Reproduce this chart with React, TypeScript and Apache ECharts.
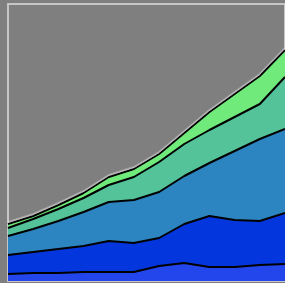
import React, { useEffect, useRef } from "react";
import * as echarts from "echarts";

const categories = ["1", "2", "3", "4", "5", "6", "7", "8", "9", "10", "11", "12"];
const seriesA = [7, 8, 8, 9, 9, 9, 15, 18, 14, 14, 16, 17];
const seriesB = [19, 21, 24, 26, 31, 29, 28, 39, 51, 47, 44, 51];
const seriesC = [19, 23, 28, 34, 39, 43, 46, 48, 53, 69, 82, 84];
const seriesD = [8, 10, 12, 14, 17, 23, 30, 32, 33, 34, 35, 52];
const seriesE = [4, 3, 4, 5, 8, 8, 8, 11, 18, 23, 28, 27];

const layers = [
  { name: "A", data: seriesA, color: "#2345ec" },
  { name: "B", data: seriesB, color: "#0336dc" },
  { name: "C", data: seriesC, color: "#2c84c0" },
  { name: "D", data: seriesD, color: "#55c39a" },
  { name: "E", data: seriesE, color: "#70ea7b" },
];

export default function App() {
  const ref = useRef<HTMLDivElement>(null);
  useEffect(() => {
    if (!ref.current) return;
    const chart = echarts.init(ref.current, null, { renderer: "svg" });
    chart.setOption({
      animation: false,
      backgroundColor: "#7f7f7f",
      grid: {
        left: 8,
        right: -2,
        top: 4,
        bottom: 2,
        show: true,
        borderColor: "#c6c6c6",
        borderWidth: 2,
        backgroundColor: "#7f7f7f",
      },
      xAxis: {
        type: "category",
        data: categories,
        boundaryGap: false,
        show: false,
      },
      yAxis: {
        type: "value",
        min: 0,
        max: 277,
        show: false,
      },
      series: layers.map((l, i) => ({
        name: l.name,
        type: "line",
        stack: "total",
        data: l.data,
        symbol: "none",
        z: 10 - i,
        areaStyle: { color: l.color, opacity: 1 },
        lineStyle:
          i === layers.length - 1
            ? {
                color: "#000",
                width: 2,
                shadowColor: "rgba(235,235,235,0.6)",
                shadowBlur: 0,
                shadowOffsetY: -1.5,
              }
            : { color: "#000", width: 2 },
      })),
    });
    return () => chart.dispose();
  }, []);
  return (
    <div
      ref={ref}
      style={{ position: "fixed", left: 0, top: 0, width: 285, height: 283 }}
    />
  );
}
